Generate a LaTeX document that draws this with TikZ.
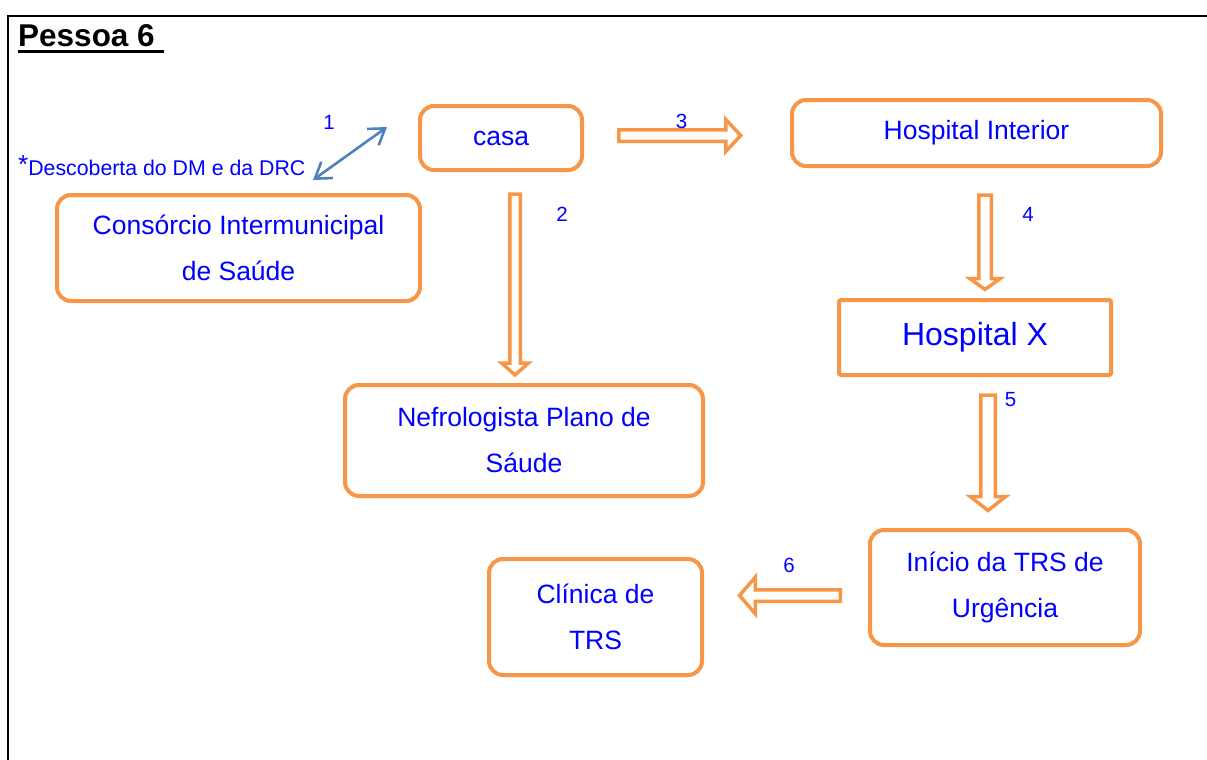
\documentclass[tikz,border=0pt]{standalone}
\usepackage{fontspec}
\setmainfont{Liberation Sans}
\usetikzlibrary{arrows.meta}

\definecolor{boxorange}{RGB}{247,150,70}
\definecolor{labelblue}{RGB}{0,0,255}
\definecolor{steel}{RGB}{79,129,189}

\tikzset{
  stepbox/.style={draw=boxorange, line width=4pt, rounded corners=14pt, fill=white,
    text=labelblue, align=center, inner sep=0pt,
    font=\fontsize{26.5}{46}\selectfont},
  numlabel/.style={text=labelblue, inner sep=0pt, anchor=base,
    font=\fontsize{20.5}{24}\selectfont},
  arrowline/.style={draw=boxorange, line width=3.5pt, fill=white, line join=miter},
  % hollow block arrow along local x: length, head length, shaft half-width, head half-width
  pics/blockarrow/.style n args={4}{code={
    \path[arrowline] (0,-#3) -- ({#1-#2},-#3) -- ({#1-#2},-#4) -- (#1,0)
      -- ({#1-#2},#4) -- ({#1-#2},#3) -- (0,#3) -- cycle;
  }}
}

\begin{document}
\begin{tikzpicture}[x=1pt,y=-1pt]
\useasboundingbox (0,0) rectangle (1207,760);

% frame
\coordinate (frameTL) at (8,16);
\coordinate (frameTR) at (1207,16);
\coordinate (frameBL) at (8,760);
\draw[line width=2.6pt] (frameBL) -- (frameTL) -- (frameTR);

% title, underlined together with its trailing space
\node[anchor=base west, inner sep=0pt, font=\fontsize{31.5}{36}\selectfont\bfseries]
  (title) at (18,47) {Pessoa 6\rule{0.3em}{0pt}};
\draw[line width=3pt] ([yshift=-5pt]title.base west) -- ([yshift=-5pt]title.base east);

% boxes
\node[stepbox, minimum width=162pt, minimum height=64pt] (casa) at (501,138) {casa};
\node[stepbox, minimum width=369pt, minimum height=66pt] (hint) at (976.5,133) {Hospital Interior};
\node[stepbox, minimum width=363pt, minimum height=106pt] (cons) at (238.5,248)
  {Consórcio Intermunicipal\\de Saúde};
\node[stepbox, minimum width=358pt, minimum height=111pt] (nefro) at (524,440.5)
  {Nefrologista Plano de\\Sáude};
\node[stepbox, rounded corners=2pt, minimum width=272pt, minimum height=75pt,
  font=\fontsize{32}{38}\selectfont] (hx) at (975,337.5) {Hospital X};
\node[stepbox, minimum width=270pt, minimum height=115pt] (inicio) at (1005,587.5)
  {Início da TRS de\\Urgência};
\node[stepbox, minimum width=213pt, minimum height=116pt] (clinica) at (595.5,617)
  {Clínica de\\TRS};

% note and double arrow 1
\node[anchor=base west, inner sep=0pt, text=labelblue, font=\fontsize{21.3}{24}\selectfont]
  (note) at (18,175) {\raisebox{2pt}{\fontsize{26}{28}\selectfont*}Descoberta do DM e da DRC};
\coordinate (d1a) at (313,180);
\coordinate (d1b) at (387,127);
\draw[steel, line width=2.6pt, {Straight Barb[length=15pt,width=20pt]}-{Straight Barb[length=15pt,width=20pt]}]
  (d1a) -- (d1b);
\node[numlabel] (n1) at (329,129) {1};

% block arrows
\coordinate (a2) at (515,194);
\coordinate (a3) at (618.75,135.5);
\coordinate (a4) at (985,195);
\coordinate (a5) at (988,395);
\coordinate (a6) at (840.25,595.5);
\pic[rotate=-90] at (a2) {blockarrow={181}{12}{5.25}{13.5}};
\pic at (a3) {blockarrow={122}{15}{5.75}{16}};
\pic[rotate=-90] at (a4) {blockarrow={94.5}{11}{6.25}{15.25}};
\pic[rotate=-90] at (a5) {blockarrow={115.5}{14}{7.25}{17.75}};
\pic[rotate=180] at (a6) {blockarrow={100.75}{15.75}{5.75}{18.25}};

% step numbers
\node[numlabel] (n2) at (562,221) {2};
\node[numlabel] (n3) at (681.5,128) {3};
\node[numlabel] (n4) at (1028,221) {4};
\node[numlabel] (n5) at (1010.5,406) {5};
\node[numlabel] (n6) at (789,572) {6};
\end{tikzpicture}
\end{document}
